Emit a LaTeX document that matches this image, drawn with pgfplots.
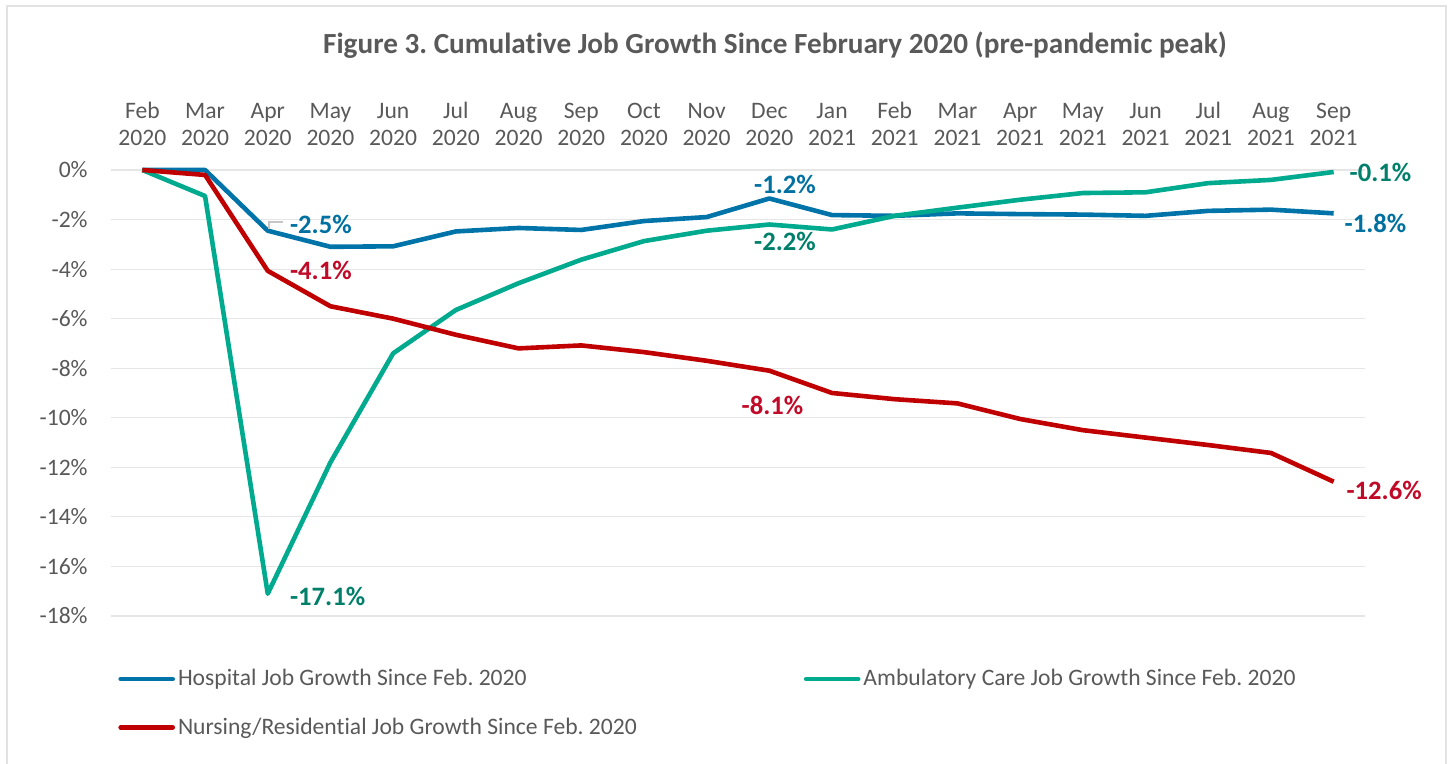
\documentclass[border=0pt]{standalone}
\usepackage{fontspec}
\setmainfont{Carlito}[Ligatures=NoCommon]
\usepackage{pgfplots}
\pgfplotsset{compat=1.18}
\definecolor{hosp}{RGB}{0,116,168}
\definecolor{amb}{RGB}{0,170,142}
\definecolor{nurs}{RGB}{192,0,0}
\definecolor{hospL}{RGB}{0,112,160}
\definecolor{ambL}{RGB}{0,128,106}
\definecolor{nursL}{RGB}{192,10,40}
\definecolor{txt}{RGB}{89,89,89}
\definecolor{gridc}{RGB}{230,230,230}
\definecolor{framec}{RGB}{226,226,226}
\frenchspacing
\begin{document}
\begin{tikzpicture}[x=1pt,y=1pt]
\path[use as bounding box] (0,0) rectangle (725,382);
\draw[framec, line width=1pt] (3.5,0) -- (3.5,379) -- (723,379) -- (723,0);
\node[font=\fontsize{14.6}{17}\selectfont\bfseries, text=txt] at (387.5,359.5) {Figure 3. Cumulative Job Growth Since February 2020 (pre-pandemic peak)};
\begin{axis}[
  at={(55.5pt,74pt)}, anchor=south west,
  scale only axis, width=627pt, height=223pt,
  xmin=-0.5, xmax=19.5, ymin=-18, ymax=0,
  clip=false,
  axis line style={draw=none},
  tick style={draw=none},
  ymajorgrids, grid style={gridc, line width=0.6pt},
  xtick={0,...,19},
  xticklabels={Feb\\2020,Mar\\2020,Apr\\2020,May\\2020,Jun\\2020,Jul\\2020,Aug\\2020,Sep\\2020,Oct\\2020,Nov\\2020,Dec\\2020,Jan\\2021,Feb\\2021,Mar\\2021,Apr\\2021,May\\2021,Jun\\2021,Jul\\2021,Aug\\2021,Sep\\2021},
  xticklabel pos=upper,
  xticklabel style={align=center, text=txt, font=\fontsize{11.8}{13.5}\selectfont, anchor=south, inner sep=0pt, yshift=12pt},
  ytick={-18,-16,...,0},
  yticklabels={-18\%,-16\%,-14\%,-12\%,-10\%,-8\%,-6\%,-4\%,-2\%,0\%},
  yticklabel style={text=txt, font=\fontsize{11.8}{13.5}\selectfont, anchor=east, inner sep=0pt, xshift=-11.5pt},
  legend columns=2,
  legend cell align=left,
  legend style={at={(axis description cs:0,0)}, anchor=north west, xshift=3.5pt, yshift=-25pt,
    draw=none, fill=none, inner sep=0pt, font=\fontsize{11.8}{13.5}\selectfont, text=txt,
    nodes={inner sep=1.5pt},
    row sep=11.5pt,
    /tikz/every even column/.append style={column sep=82pt}},
  legend image code/.code={\draw[#1, line width=2.3pt, line cap=round] (0pt,0pt) -- (26pt,0pt);},
]
\addplot[hosp, line width=2.3pt, line join=round] coordinates {
(0,0) (1,0) (2,-2.45) (3,-3.1) (4,-3.08) (5,-2.48) (6,-2.34) (7,-2.42) (8,-2.06) (9,-1.9)
(10,-1.15) (11,-1.82) (12,-1.85) (13,-1.75) (14,-1.78) (15,-1.8) (16,-1.85) (17,-1.65) (18,-1.6) (19,-1.75)};
\addlegendentry{Hospital Job Growth Since Feb. 2020}
\addplot[amb, line width=2.3pt, line join=round] coordinates {
(0,0) (1,-1.05) (2,-17.1) (3,-11.8) (4,-7.4) (5,-5.65) (6,-4.57) (7,-3.62) (8,-2.87) (9,-2.45)
(10,-2.2) (11,-2.4) (12,-1.85) (13,-1.52) (14,-1.2) (15,-0.93) (16,-0.9) (17,-0.53) (18,-0.4) (19,-0.08)};
\addlegendentry{Ambulatory Care Job Growth Since Feb. 2020}
\addplot[nurs, line width=2.3pt, line join=round] coordinates {
(0,0) (1,-0.2) (2,-4.07) (3,-5.5) (4,-6.0) (5,-6.65) (6,-7.2) (7,-7.08) (8,-7.35) (9,-7.7)
(10,-8.1) (11,-9.0) (12,-9.25) (13,-9.42) (14,-10.05) (15,-10.5) (16,-10.8) (17,-11.1) (18,-11.42) (19,-12.58)};
\addlegendentry{Nursing/Residential Job Growth Since Feb. 2020}
\begin{scope}[every node/.style={font=\fontsize{13.3}{15}\selectfont\bfseries, inner sep=0pt}]
\node[hospL, anchor=west] at (axis cs:2.35,-2.2) {-2.5\%};
\node[nursL, anchor=west] at (axis cs:2.35,-4.07) {-4.1\%};
\node[ambL, anchor=west] at (axis cs:2.35,-17.2) {-17.1\%};
\node[hospL] at (axis cs:10.25,-0.57) {-1.2\%};
\node[ambL] at (axis cs:10.25,-2.9) {-2.2\%};
\node[nursL] at (axis cs:10.05,-9.5) {-8.1\%};
\node[ambL, anchor=west] at (axis cs:19.25,-0.1) {-0.1\%};
\node[hospL, anchor=west] at (axis cs:19.17,-2.14) {-1.8\%};
\node[nursL, anchor=west] at (axis cs:19.2,-12.95) {-12.6\%};
\end{scope}
\draw[gray!45, line width=0.6pt] (axis cs:2.02,-2.4) -- (axis cs:2.02,-2.1) -- (axis cs:2.24,-2.1);
\end{axis}
\end{tikzpicture}
\end{document}
